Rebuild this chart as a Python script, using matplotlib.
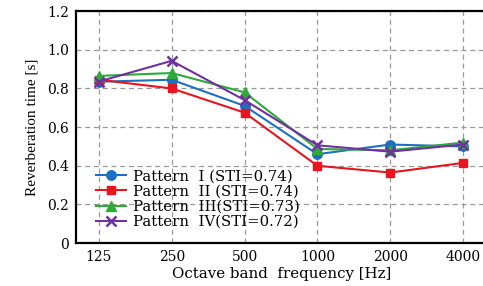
import matplotlib
matplotlib.use("Agg")
import matplotlib.pyplot as plt

# Octave band reverberation times
bands = ["125", "250", "500", "1000", "2000", "4000"]
pattern_1 = [0.835, 0.845, 0.71, 0.46, 0.51, 0.50]
pattern_2 = [0.845, 0.80, 0.675, 0.40, 0.365, 0.415]
pattern_3 = [0.865, 0.88, 0.78, 0.487, 0.48, 0.52]
pattern_4 = [0.836, 0.943, 0.74, 0.506, 0.473, 0.51]
labels = ["Pattern  I (STI=0.74)", "Pattern  II (STI=0.74)",
          "Pattern  III(STI=0.73)", "Pattern  IV(STI=0.72)"]
yticks = [0, 0.2, 0.4, 0.6, 0.8, 1.0, 1.2]
ytick_labels = ["0", "0.2", "0.4", "0.6", "0.8", "1.0", "1.2"]

# the reference text is a wide serif, DejaVu Serif fits its footprint best
plt.rcParams['font.family'] = ['DejaVu Serif']

fig = plt.figure(figsize=(4.83, 2.86), dpi=100)
ax = fig.add_axes([0.157, 0.150, 0.853, 0.811])

x = list(range(len(bands)))
styles = [("#1f6fc0", "o", 6.8), ("#e8141e", "s", 6.2), ("#2eaa3a", "^", 7.2),
          ("#7030a0", "x", 7.5)]
for vals, lab, (col, mk, ms) in zip([pattern_1, pattern_2, pattern_3, pattern_4],
                                     labels, styles):
    ax.plot(x, vals, color=col, marker=mk, markersize=ms, linewidth=1.5,
            markeredgewidth=1.8 if mk == "x" else 1.0, label=lab)

ax.set_xlim(-0.316, 5.34)
ax.set_ylim(0, 1.2)
ax.set_xticks(x)
ax.set_xticklabels(bands)
ax.set_yticks(yticks)
ax.set_yticklabels(ytick_labels)
ax.tick_params(length=0, labelsize=10, pad=5)
ax.grid(True, color="#999999", linestyle=(0, (4, 3)), linewidth=0.9)
ax.set_axisbelow(True)
for side in ["left", "bottom", "top"]:
    ax.spines[side].set_linewidth(1.6)
ax.spines["right"].set_visible(False)

ax.set_xlabel("Octave band  frequency [Hz]", fontsize=10.8, labelpad=2)
ax.set_ylabel("Reverberation time [s]", fontsize=11, labelpad=6,
              family=['Liberation Serif'])

ax.legend(loc="upper left", bbox_to_anchor=(0.05, 0.318), frameon=False,
          fontsize=10.7, handlelength=2.0, handletextpad=0.45,
          labelspacing=0.08, borderpad=0, borderaxespad=0)

fig.savefig("out.png", dpi=100)
